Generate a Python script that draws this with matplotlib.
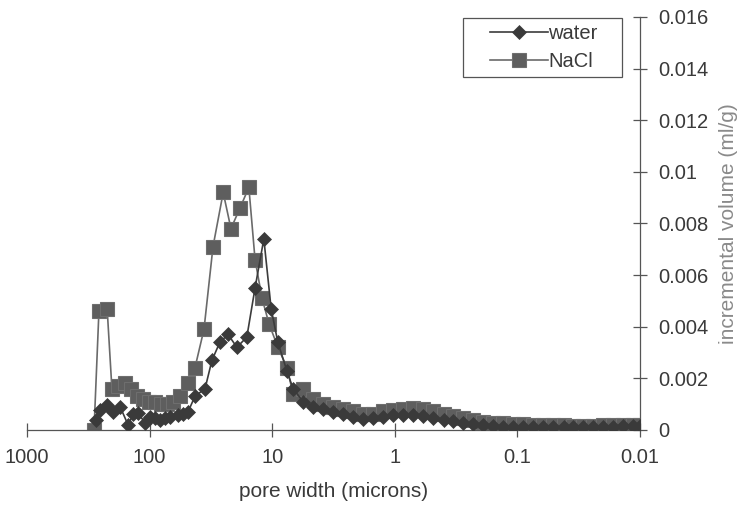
import matplotlib
matplotlib.use("Agg")
import matplotlib.pyplot as plt
from matplotlib.patches import Rectangle
from matplotlib.ticker import FixedLocator, FixedFormatter

plt.rcParams['font.family'] = ['Liberation Sans', 'DejaVu Sans']

# pore width (microns) and incremental volume (ml/g)
water_x = [273, 254, 222, 199, 174, 150, 136, 124, 109, 99, 90, 82, 75, 68, 59, 53,
           48.6, 42.7, 35.3, 31, 26.7, 22.9, 19.4, 16.1, 13.8, 11.7, 10.2, 9.0, 7.6,
           6.76, 5.6, 4.65, 3.85, 3.19, 2.65, 2.19, 1.82, 1.51, 1.25, 1.03, 0.86,
           0.71, 0.59, 0.49, 0.40, 0.335, 0.278, 0.23, 0.19, 0.158, 0.131, 0.109,
           0.09, 0.075, 0.062, 0.051, 0.042, 0.035, 0.029, 0.024, 0.020, 0.0166,
           0.0138, 0.0115, 0.010]
water_y = [0.0004, 0.00078, 0.00097, 0.0007, 0.0009, 0.0002, 0.0006, 0.00066,
           0.00027, 0.0005, 0.00045, 0.0004, 0.00045, 0.0005, 0.00058, 0.0006,
           0.0007, 0.0013, 0.0016, 0.0027, 0.0034, 0.0037, 0.0032, 0.0036, 0.0055,
           0.0074, 0.0047, 0.0034, 0.0023, 0.0016, 0.0011, 0.0009, 0.0008, 0.0007,
           0.0006, 0.00052, 0.00042, 0.00045, 0.00052, 0.00056, 0.00058, 0.00058,
           0.00055, 0.00048, 0.0004, 0.00034, 0.00028, 0.00022, 0.00018, 0.00015,
           0.00013, 0.00012, 0.00011, 0.0001, 0.0001, 0.0001, 0.0001, 0.0001,
           0.00011, 0.00012, 0.00012, 0.00013, 0.00014, 0.00015, 0.00016]

nacl_x = [284, 259, 222, 203, 181, 158, 142, 127, 114, 101, 90, 81, 72, 64, 56.5,
          48.6, 42.7, 36, 30.4, 25.1, 21.7, 18.3, 15.5, 13.8, 12.1, 10.6, 8.97,
          7.57, 6.76, 5.6, 4.65, 3.85, 3.19, 2.65, 2.19, 1.82, 1.51, 1.25, 1.03,
          0.86, 0.71, 0.59, 0.49, 0.40, 0.335, 0.278, 0.23, 0.19, 0.158, 0.131,
          0.109, 0.09, 0.075, 0.062, 0.051, 0.042, 0.035, 0.029, 0.024, 0.020,
          0.0166, 0.0138, 0.0115, 0.010]
nacl_y = [0.0, 0.0046, 0.0047, 0.0016, 0.0017, 0.0018, 0.0016, 0.0013, 0.0012,
          0.0011, 0.0011, 0.001, 0.001, 0.0011, 0.0013, 0.0018, 0.0024, 0.0039,
          0.0071, 0.0092, 0.0078, 0.0086, 0.0094, 0.0066, 0.0051, 0.0041, 0.0032,
          0.0024, 0.0014, 0.0016, 0.0012, 0.001, 0.0009, 0.00082, 0.00075, 0.0006,
          0.00062, 0.00072, 0.00078, 0.00082, 0.00085, 0.0008, 0.00072, 0.00062,
          0.00055, 0.00048, 0.0004, 0.00032, 0.00028, 0.00025, 0.00024, 0.00022,
          0.0002, 0.0002, 0.00019, 0.00018, 0.00017, 0.00017, 0.00017, 0.00018,
          0.00018, 0.00019, 0.00019, 0.0002]

x_ticks = [1000, 100, 10, 1, 0.1, 0.01]
x_labels = ['1000', '100', '10', '1', '0.1', '0.01']
y_ticks = [0, 0.002, 0.004, 0.006, 0.008, 0.01, 0.012, 0.014, 0.016]
y_labels = ['0', '0.002', '0.004', '0.006', '0.008', '0.01', '0.012', '0.014', '0.016']

text_col = '#3a3a3a'

fig = plt.figure(figsize=(7.42, 5.07), dpi=100)
ax = fig.add_axes([0.0364, 0.152, 0.8261, 0.8145])

ax.plot(nacl_x, nacl_y, color='#6a6a6a', lw=1.2, marker='s', ms=9.8,
        mfc='#5e5e5e', mec='#6e6e6e', mew=0.8, label='NaCl', zorder=2)
ax.plot(water_x, water_y, color='#3c3c3c', lw=1.2, marker='D', ms=7,
        mfc='#3a3a3a', mec='#3a3a3a', mew=0.5, label='water', zorder=3)

ax.set_xscale('log')
ax.set_xlim(1000, 0.01)
ax.set_ylim(0, 0.016)
ax.xaxis.set_major_locator(FixedLocator(x_ticks))
ax.xaxis.set_major_formatter(FixedFormatter(x_labels))
ax.xaxis.set_minor_locator(FixedLocator([]))
ax.yaxis.set_major_locator(FixedLocator(y_ticks))
ax.yaxis.set_major_formatter(FixedFormatter(y_labels))

for s in ['top', 'left']:
    ax.spines[s].set_visible(False)
ax.spines['bottom'].set_color('#555555')
ax.spines['right'].set_color('#555555')
ax.spines['bottom'].set_linewidth(0.9)
ax.spines['right'].set_linewidth(0.9)

ax.yaxis.tick_right()
ax.yaxis.set_label_position('right')
ax.tick_params(axis='x', direction='inout', length=10, width=0.9, color='#555555',
               labelsize=14.5, labelcolor=text_col, pad=8)
ax.tick_params(axis='y', direction='inout', length=10, width=0.9, color='#555555',
               labelsize=14.5, labelcolor=text_col, pad=8)

ax.set_xlabel('pore width (microns)', fontsize=15, color=text_col, labelpad=11)
ax.set_ylabel('incremental volume (ml/g)', fontsize=15, color='#8a8a8a', labelpad=8)

# legend: frame drawn separately, as the box is wider than its contents
ax.add_patch(Rectangle((0.711, 0.855), 0.26, 0.143, transform=ax.transAxes,
                       fill=False, edgecolor='#555555', lw=0.9, zorder=5,
                       clip_on=False))
handles, labels = ax.get_legend_handles_labels()
leg = ax.legend(handles[::-1], labels[::-1], loc='upper left',
                bbox_to_anchor=(0.755, 0.983), fontsize=14.5, frameon=False,
                handlelength=2.9, handletextpad=0.0, borderpad=0.0,
                borderaxespad=0.0, labelspacing=0.45)
for t in leg.get_texts():
    t.set_color(text_col)

fig.savefig('out.png', dpi=100)
